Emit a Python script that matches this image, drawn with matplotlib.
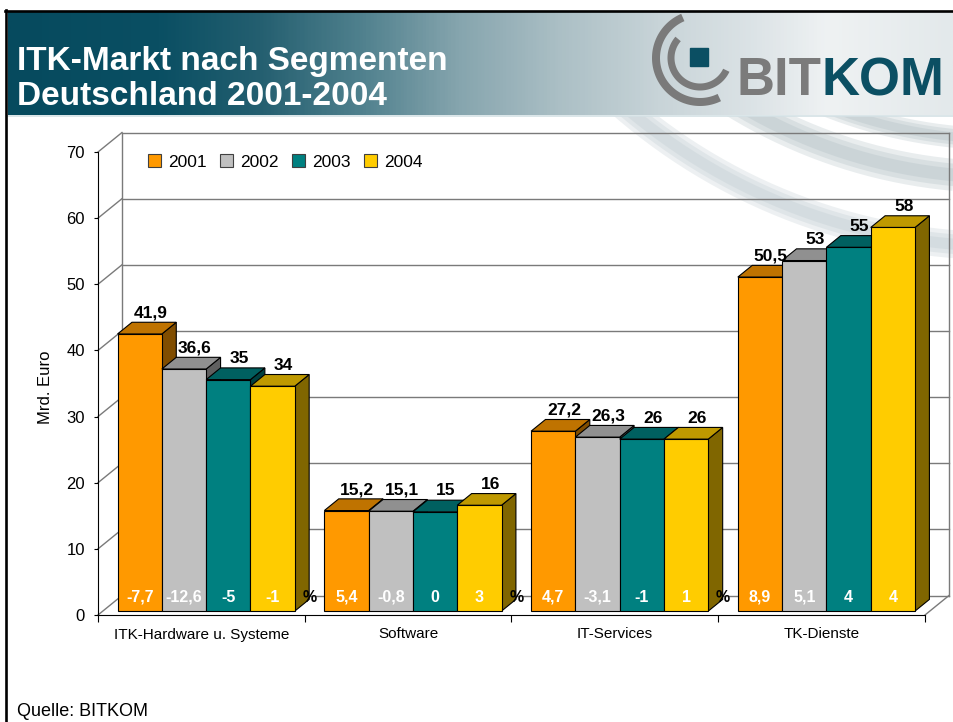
import matplotlib

matplotlib.use("Agg")
import matplotlib.pyplot as plt  # noqa: E402
import numpy as np  # noqa: E402
from matplotlib.colors import LinearSegmentedColormap, to_rgb  # noqa: E402
from matplotlib.patches import Patch, Polygon, Rectangle  # noqa: E402

plt.rcParams["font.family"] = ["Liberation Sans", "DejaVu Sans"]

# --- data -------------------------------------------------------------
categories = ["ITK-Hardware u. Systeme", "Software", "IT-Services", "TK-Dienste"]
years = ["2001", "2002", "2003", "2004"]
# market volume, Mrd. Euro
v2001 = [41.9, 15.2, 27.2, 50.5]
v2002 = [36.6, 15.1, 26.3, 53.0]
v2003 = [35.0, 15.0, 26.0, 55.0]
v2004 = [34.0, 16.0, 26.0, 58.0]
# change vs. previous year, %
g2001 = [-7.7, 5.4, 4.7, 8.9]
g2002 = [-12.6, -0.8, -3.1, 5.1]
g2003 = [-5, 0, -1, 4]
g2004 = [-1, 3, 1, 4]
yticks = [0, 10, 20, 30, 40, 50, 60, 70]

values = [v2001, v2002, v2003, v2004]
growth = [g2001, g2002, g2003, g2004]
colors = ["#FF9900", "#C0C0C0", "#008080", "#FFCC00"]


def shade(c, f):
    return tuple(min(1, x * f) for x in to_rgb(c))


def de(v):
    return f"{v:g}".replace(".", ",")


W_PX, H_PX = 954, 722
fig = plt.figure(figsize=(W_PX / 100, H_PX / 100), dpi=100)
fig.patch.set_facecolor("white")

# --- decoration layer in pixel coordinates ---------------------------
bg = fig.add_axes([0, 0, 1, 1], zorder=-1)
bg.set_xlim(0, W_PX); bg.set_ylim(H_PX, 0); bg.axis("off")

# faint swirl behind the chart
clip = Rectangle((0, 116), W_PX, H_PX, transform=bg.transData, visible=False)
bg.add_patch(clip)
t = np.linspace(0, np.pi / 2, 200)
for r, lw, col in [(469, 22, "#a3b4bb"), (507, 32, "#a3b4bb"), (576, 28, "#b5c3c9")]:
    for k in (1.0, 0.7, 0.4):
        ln, = bg.plot(1000 - r * np.cos(t), -330 + r * np.sin(t), color=col,
                      lw=lw * k * 0.72, alpha=0.24, solid_capstyle="butt", zorder=1)
        ln.set_clip_path(clip)

# title banner gradient
stops = [(9, "#064a5e"), (160, "#0a4f63"), (260, "#245f70"), (360, "#4f808d"),
         (460, "#86a5ae"), (560, "#abbfc5"), (660, "#c8d4d8"), (760, "#dde4e7"),
         (830, "#eff2f3"), (954, "#e3e9eb")]
cmap = LinearSegmentedColormap.from_list(
    "banner", [((x - 9) / (954 - 9), c) for x, c in stops])
bg.imshow(np.linspace(0, 1, 600).reshape(1, -1), extent=(8, 954, 115, 11),
          cmap=cmap, aspect="auto", zorder=2)
bg.plot([8, 954], [115.5, 115.5], color="#d4e1e5", lw=1.2, zorder=3)
bg.text(17, 70, "ITK-Markt nach Segmenten", color="white", fontsize=24,
        fontweight="bold", va="baseline", zorder=4)
bg.text(17, 105, "Deutschland 2001-2004", color="white", fontsize=24,
        fontweight="bold", va="baseline", zorder=4)

# slide frame
bg.plot([5, 954], [10.5, 10.5], color="black", lw=1.9, zorder=5)
bg.plot([6.5, 6.5], [9.5, 722], color="black", lw=1.9, zorder=5)

# BITKOM logo
for r, a0, a1, lw in [(44, 64, 247, 8), (29, 25, 221, 7)]:
    th = np.radians(np.linspace(a0, a1, 120))
    bg.plot(700 + r * np.cos(th), 58 + r * np.sin(th), color="#7a7a7a",
            lw=lw * 0.72, solid_capstyle="butt", zorder=4)
bg.add_patch(Rectangle((690, 48), 18, 18, color="#0b4f63", zorder=4))
t_bit = bg.text(737, 95, "BIT", color="#7b7b7b", fontsize=38, fontweight="bold",
                va="baseline", zorder=4)
bg.annotate("KOM", xy=(1, 0), xycoords=t_bit, color="#0b4f63", fontsize=38,
            fontweight="bold", va="bottom", ha="left", zorder=4)

bg.text(17, 716, "Quelle: BITKOM", fontsize=13, va="baseline")

# --- chart (front plane of the 3-D box) ------------------------------
ax = fig.add_axes([98 / W_PX, 1 - 615 / H_PX, 827 / W_PX, 463 / H_PX])
ax.patch.set_visible(False)
n = len(categories)
ax.set_xlim(0, n); ax.set_ylim(0, 70)

DX = 24 / 827 * n      # depth of the box, data units
DY = 19.5 / 463 * 70
F0, F1 = 0.2, 0.8      # bar depth range inside the box
FD = F1 - F0
GAP = 0.0715
W = (1 - 2 * GAP) / len(years)

wall = dict(color="#7a7a7a", lw=1.0, zorder=1, clip_on=False)
for v in yticks:
    ax.plot([0, DX], [v, v + DY], **wall)
    ax.plot([DX, n + DX], [v + DY, v + DY], **wall)
ax.plot([DX, DX], [DY, 70 + DY], **wall)
ax.plot([n + DX, n + DX], [DY, 70 + DY], **wall)
ax.plot([n, n + DX], [0, DY], **wall)

y0 = F0 * DY
for i in range(n):
    for j, (vals, gr, c) in enumerate(zip(values, growth, colors)):
        v = vals[i]
        x0 = i + GAP + j * W + F0 * DX
        z = 3 + j
        ax.add_patch(Polygon([(x0 + W, y0), (x0 + W + FD * DX, y0 + FD * DY),
                              (x0 + W + FD * DX, y0 + v + FD * DY), (x0 + W, y0 + v)],
                             closed=True, fc=shade(c, 0.5), ec="black", lw=0.8,
                             zorder=z, clip_on=False))
        ax.add_patch(Polygon([(x0, y0 + v), (x0 + W, y0 + v),
                              (x0 + W + FD * DX, y0 + v + FD * DY),
                              (x0 + FD * DX, y0 + v + FD * DY)],
                             closed=True, fc=shade(c, 0.75), ec="black", lw=0.8,
                             zorder=z, clip_on=False))
        ax.bar(x0, v, width=W, bottom=y0, align="edge", color=c, edgecolor="black",
               lw=0.8, zorder=z, clip_on=False)
        ax.annotate(de(v), (x0 + W / 2 + 0.75 * FD * DX, y0 + v + FD * DY),
                    xytext=(0, 3.5), textcoords="offset points", ha="center",
                    va="baseline", fontsize=12.5, fontweight="bold", zorder=20)
        ax.annotate(de(gr[i]), (x0 + W / 2, y0), xytext=(0, 10),
                    textcoords="offset points", ha="center", va="center",
                    fontsize=11.5, fontweight="bold", color="white", zorder=20)
    ax.annotate("%", (i + 1 + F0 * DX, y0), xytext=(0, 10),
                textcoords="offset points", ha="center", va="center",
                fontsize=11.5, fontweight="bold", zorder=20)

for s in ("top", "right"):
    ax.spines[s].set_visible(False)
ax.spines["left"].set_zorder(2)
ax.spines["bottom"].set_zorder(2)
ax.set_yticks(yticks)
ax.tick_params(axis="y", length=3, pad=6.5, labelsize=12)
ax.set_xticks(range(n + 1))
ax.set_xticklabels([])
ax.set_xticks(np.arange(n) + 0.5, minor=True)
ax.set_xticklabels(categories, minor=True, fontsize=11)
ax.tick_params(axis="x", which="major", length=5)
ax.tick_params(axis="x", which="minor", length=0, pad=9)
fig.text(45 / W_PX, 1 - 387 / H_PX, "Mrd. Euro", rotation=90, fontsize=12,
         ha="center", va="center")

handles = [Patch(fc=c, ec="#404040", lw=0.8) for c in colors]
ax.legend(handles, years, ncol=4, loc="center left",
          bbox_to_anchor=(148 / W_PX, 1 - 162 / H_PX), bbox_transform=fig.transFigure,
          frameon=False, fontsize=12.5, handlelength=0.75, handleheight=0.75,
          handletextpad=0.42, columnspacing=0.75, borderpad=0, borderaxespad=0)

fig.savefig("out.png", dpi=100)
